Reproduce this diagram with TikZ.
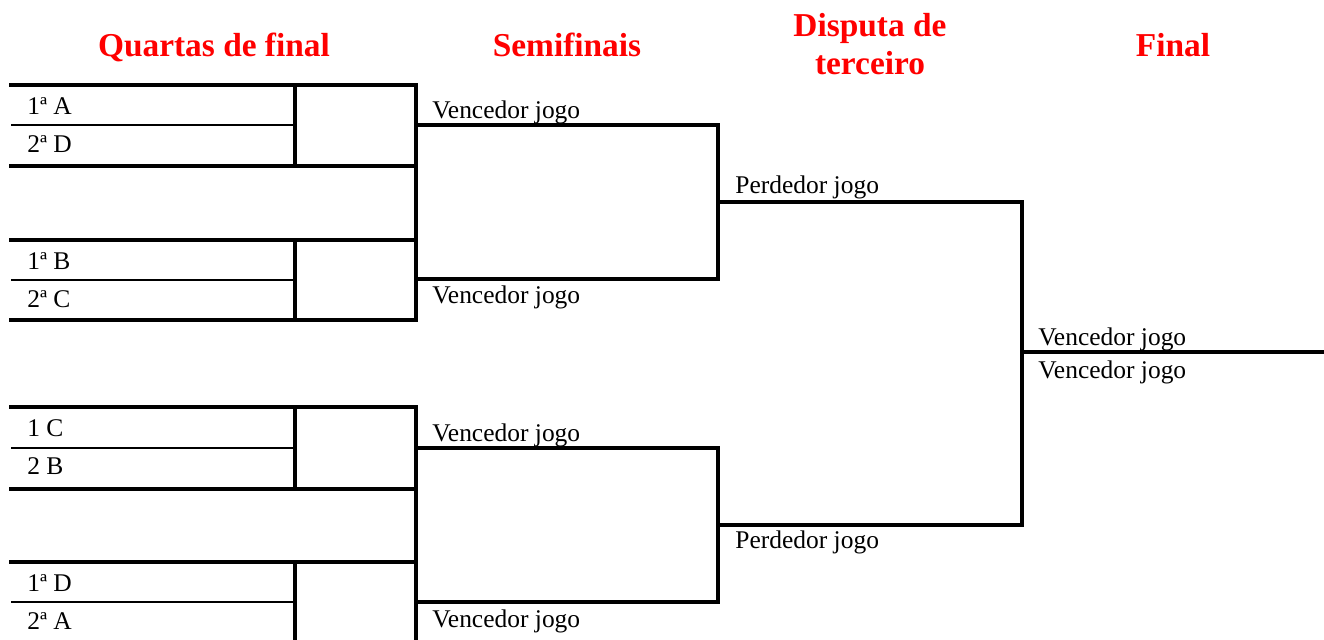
\documentclass[tikz,border=0pt]{standalone}
\usepackage{fontspec}
\setmainfont{Liberation Serif}
\usetikzlibrary{positioning}

\begin{document}
\begin{tikzpicture}[x=0.02cm,y=-0.02cm,
	thickline/.style={line width=1.9pt,line cap=rect},
	thinline/.style={line width=0.9pt},
	head/.style={text=red,font=\bfseries\fontsize{19}{21.6}\selectfont,align=center,anchor=base},
	team/.style={anchor=base west,inner sep=0pt,font=\fontsize{14.5}{16}\selectfont},
	jogo/.style={anchor=base west,inner sep=0pt,font=\fontsize{14.5}{16}\selectfont}]
	\useasboundingbox (0,0) rectangle (1324,639);
	% column titles
	\node[head] (hquartas) at (214,56) {Quartas de final};
	\node[head] (hsemi) at (567,56) {Semifinais};
	\node[head] (hterceiro) at (870,74) {Disputa de\\terceiro};
	\node[head] (hfinal) at (1173,56) {Final};
	% quarter finals
	\draw[thickline] (11,85) -- (416,85) (11,166) -- (416,166) (295,85) -- (295,166);
	\draw[thinline] (11,125) -- (295,125);
	\draw[thickline] (11,240) -- (416,240) (11,320) -- (416,320) (295,240) -- (295,320);
	\draw[thinline] (11,280) -- (295,280);
	\draw[thickline] (416,85) -- (416,320);
	\draw[thickline] (11,407) -- (416,407) (11,489) -- (416,489) (295,407) -- (295,489);
	\draw[thinline] (11,448) -- (295,448);
	\draw[thickline] (11,562) -- (416,562) (11,643) -- (416,643) (295,562) -- (295,643);
	\draw[thinline] (11,602) -- (295,602);
	\draw[thickline] (416,407) -- (416,643);
	\node[team] (qa1) at (27,114) {1ª A};
	\node[team] (qa2) at (27,152) {2ª D};
	\node[team] (qb1) at (27,269) {1ª B};
	\node[team] (qb2) at (27,307) {2ª C};
	\node[team] (qc1) at (27,436) {1 C};
	\node[team] (qc2) at (27,474) {2 B};
	\node[team] (qd1) at (27,591) {1ª D};
	\node[team] (qd2) at (27,629) {2ª A};
	% semifinals
	\draw[thickline] (416,125) -- (718,125) -- (718,279) -- (416,279);
	\draw[thickline] (416,448) -- (718,448) -- (718,602) -- (416,602);
	\node[jogo] (sa) at (432,118) {Vencedor jogo};
	\node[jogo] (sb) at (432,303) {Vencedor jogo};
	\node[jogo] (sc) at (432,441) {Vencedor jogo};
	\node[jogo] (sd) at (432,627) {Vencedor jogo};
	% third place and final
	\draw[thickline] (718,202) -- (1022,202) -- (1022,525) -- (718,525);
	\draw[thickline] (1022,352) -- (1324,352);
	\node[jogo] (pa) at (735,193) {Perdedor jogo};
	\node[jogo] (pb) at (735,548) {Perdedor jogo};
	\node[jogo] (fa) at (1038,345) {Vencedor jogo};
	\node[jogo] (fb) at (1038,378) {Vencedor jogo};
\end{tikzpicture}
\end{document}
